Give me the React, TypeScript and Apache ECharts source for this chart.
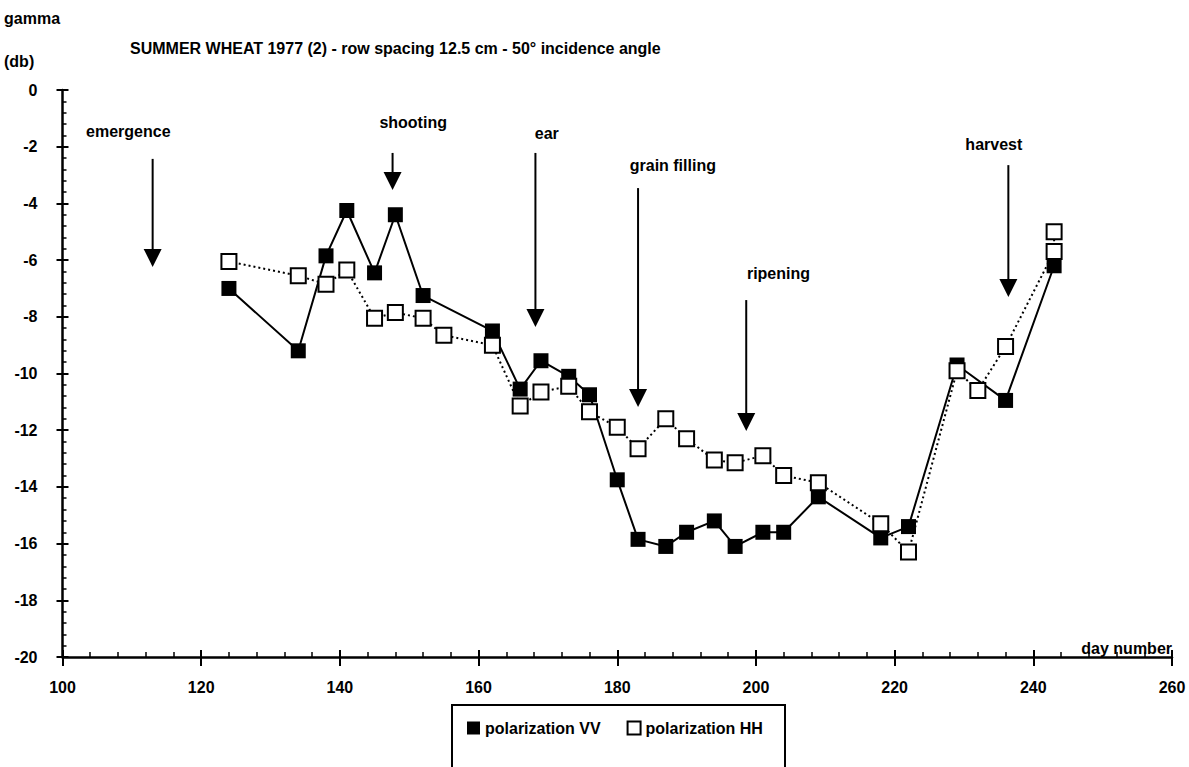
import React, { useEffect, useRef } from "react";
import * as echarts from "echarts";

// ---- data ----
const vvDays = [124, 134, 138, 141, 145, 148, 152, 162, 166, 169, 173, 176, 180, 183, 187, 190, 194, 197, 201, 204, 209, 218, 222, 229, 236, 243];
const vvValues = [-7.0, -9.2, -5.85, -4.25, -6.45, -4.4, -7.25, -8.5, -10.55, -9.55, -10.1, -10.75, -13.75, -15.85, -16.1, -15.6, -15.2, -16.1, -15.6, -15.6, -14.35, -15.8, -15.4, -9.7, -10.95, -6.2];

const hhDays = [124, 134, 138, 141, 145, 148, 152, 155, 162, 166, 169, 173, 176, 180, 183, 187, 190, 194, 197, 201, 204, 209, 218, 222, 229, 232, 236, 243, 243];
const hhValues = [-6.05, -6.55, -6.85, -6.35, -8.05, -7.85, -8.05, -8.65, -9.0, -11.15, -10.65, -10.45, -11.35, -11.9, -12.65, -11.6, -12.3, -13.05, -13.15, -12.9, -13.6, -13.85, -15.3, -16.3, -9.9, -10.6, -9.05, -5.7, -5.0];

// growth phases (annotations, in data units)
const phaseNames = ["emergence", "shooting", "ear", "grain filling", "ripening", "harvest"];
const phaseLabelDays = [103.4, 145.7, 168.1, 181.8, 198.7, 230.2];
const phaseLabelValues = [-1.48, -1.16, -1.52, -2.65, -6.46, -1.94];
const phaseArrowDays = [113.0, 147.6, 168.2, 183.0, 198.6, 236.4];
const phaseArrowTops = [-2.43, -2.22, -2.22, -3.46, -7.41, -2.65];
const phaseArrowTips = [-6.24, -3.53, -8.36, -11.18, -12.03, -7.3];

const titleText = "SUMMER WHEAT 1977 (2) - row spacing 12.5 cm - 50° incidence angle";
const yUnitTop = "gamma";
const yUnitBottom = "(db)";
const xName = "day number";
const seriesNames = ["polarization VV", "polarization HH"];

const FONT = '"Liberation Sans", Arial, Helvetica, sans-serif';
const FS = 16;

export default function App() {
  const ref = useRef<HTMLDivElement>(null);

  useEffect(() => {
    document.body.style.margin = "0";
    if (!ref.current) return;
    const chart = echarts.init(ref.current, null, { renderer: "svg" });

    const txt = { color: "#000", fontSize: FS, fontWeight: "bold" as const, fontFamily: FONT };

    const option: any = {
      animation: false,
      backgroundColor: "#fff",
      title: [
        { text: yUnitTop, left: 4, top: 10, padding: 0, textStyle: { ...txt } },
        { text: yUnitBottom, left: 4, top: 53, padding: 0, textStyle: { ...txt } },
        { text: titleText, left: 130, top: 40, padding: 0, textStyle: { ...txt } },
      ],
      grid: { left: 62.5, right: 17, top: 90, bottom: 110, containLabel: false },
      legend: {
        left: 467,
        top: 720,
        padding: 0,
        itemWidth: 13,
        itemHeight: 13,
        itemGap: 26,
        selectedMode: false,
        textStyle: { ...txt },
        data: [
          { name: seriesNames[0], icon: "rect", itemStyle: { color: "#000", borderWidth: 0 } },
          { name: seriesNames[1], icon: "rect", itemStyle: { color: "#fff", borderColor: "#000", borderWidth: 2 } },
        ],
      },
      xAxis: [
        {
          type: "value",
          min: 100,
          max: 260,
          interval: 20,
          position: "bottom",
          name: xName,
          nameLocation: "end",
          nameGap: 0,
          nameTextStyle: { ...txt, align: "right", verticalAlign: "bottom", padding: [0, 0, 1, 0] },
          axisLine: { show: true, onZero: false, lineStyle: { color: "#000", width: 2.5 } },
          axisTick: { show: true, inside: true, length: 7, lineStyle: { color: "#000", width: 2 } },
          minorTick: { show: true, splitNumber: 5, length: 5, lineStyle: { color: "#000", width: 1.5 } },
          axisLabel: { ...txt, margin: 22 },
          splitLine: { show: false },
        },
        {
          type: "value",
          min: 100,
          max: 260,
          interval: 20,
          position: "bottom",
          axisLine: { show: false, onZero: false },
          axisTick: { show: true, inside: false, length: 9, lineStyle: { color: "#000", width: 2 } },
          axisLabel: { show: false },
          splitLine: { show: false },
        },
      ],
      yAxis: [
        {
          type: "value",
          min: -20,
          max: 0,
          interval: 2,
          position: "left",
          axisLine: { show: true, onZero: false, lineStyle: { color: "#000", width: 2.5 } },
          axisTick: { show: true, inside: true, length: 6, lineStyle: { color: "#000", width: 2 } },
          minorTick: { show: true, splitNumber: 5, length: 4, lineStyle: { color: "#000", width: 1.5 } },
          axisLabel: { ...txt, margin: 25 },
          splitLine: { show: false },
        },
        {
          type: "value",
          min: -20,
          max: 0,
          interval: 2,
          position: "left",
          axisLine: { show: false, onZero: false },
          axisTick: { show: true, inside: false, length: 6, lineStyle: { color: "#000", width: 2 } },
          axisLabel: { show: false },
          splitLine: { show: false },
        },
      ],
      series: [
        {
          name: seriesNames[0],
          type: "line",
          xAxisIndex: 0,
          yAxisIndex: 0,
          data: vvDays.map((d, i) => [d, vvValues[i]]),
          symbol: "rect",
          symbolSize: 15,
          itemStyle: { color: "#000" },
          lineStyle: { color: "#000", width: 2 },
          z: 2,
        },
        {
          name: seriesNames[1],
          type: "line",
          xAxisIndex: 0,
          yAxisIndex: 0,
          data: hhDays.map((d, i) => [d, hhValues[i]]),
          symbol: "rect",
          symbolSize: 15,
          itemStyle: { color: "#fff", borderColor: "#000", borderWidth: 2 },
          lineStyle: { color: "#000", width: 2, type: [2, 3] },
          z: 3,
        },
      ],
    };

    chart.setOption(option);

    const toPx = (d: number, v: number) =>
      chart.convertToPixel({ xAxisIndex: 0, yAxisIndex: 0 }, [d, v]) as number[];

    const graphics: any[] = [];
    phaseNames.forEach((name, i) => {
      const lp = toPx(phaseLabelDays[i], phaseLabelValues[i]);
      graphics.push({
        type: "text",
        x: lp[0],
        y: lp[1],
        style: {
          text: name,
          fill: "#000",
          font: `bold ${FS}px ${FONT}`,
          align: "left",
          verticalAlign: "middle",
        },
      });
      const top = toPx(phaseArrowDays[i], phaseArrowTops[i]);
      const tip = toPx(phaseArrowDays[i], phaseArrowTips[i]);
      const head = 18;
      graphics.push({
        type: "line",
        shape: { x1: top[0], y1: top[1], x2: tip[0], y2: tip[1] - head + 2 },
        style: { stroke: "#000", lineWidth: 2 },
      });
      graphics.push({
        type: "polygon",
        shape: {
          points: [
            [tip[0] - 9, tip[1] - head],
            [tip[0] + 9, tip[1] - head],
            [tip[0], tip[1]],
          ],
        },
        style: { fill: "#000" },
      });
    });

    // legend frame
    graphics.push({
      type: "rect",
      shape: { x: 452, y: 705, width: 333, height: 100 },
      style: { fill: "none", stroke: "#000", lineWidth: 2 },
      z: -1,
    });

    chart.setOption({ graphic: graphics });

    return () => {
      chart.dispose();
    };
  }, []);

  return <div ref={ref} style={{ width: 1189, height: 767 }} />;
}
